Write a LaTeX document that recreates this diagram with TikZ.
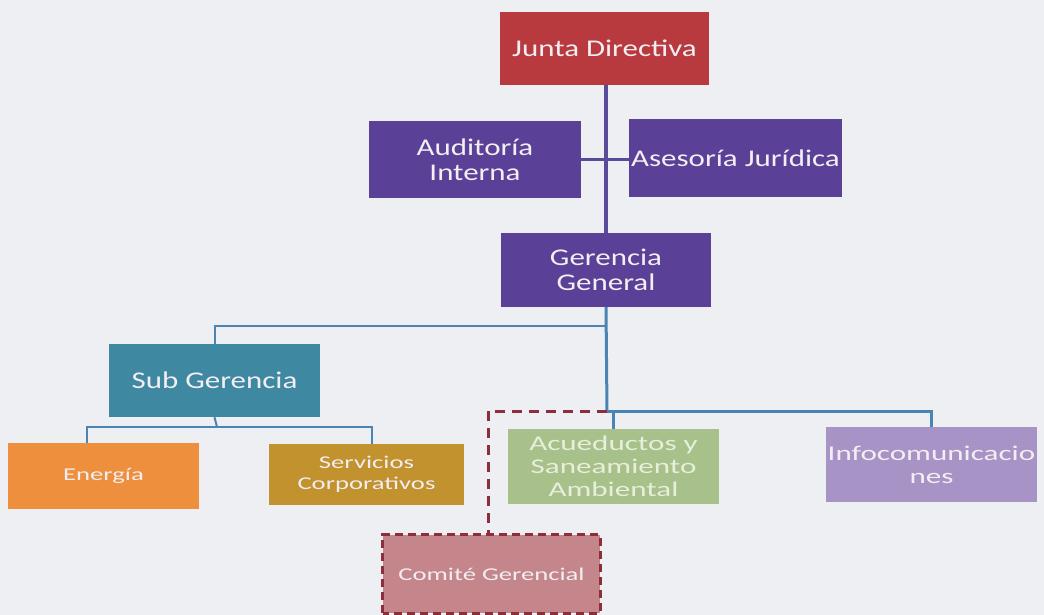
\documentclass[tikz,border=0pt]{standalone}
\usepackage{fontspec}
\newfontfamily\fA[FakeStretch=1.29]{Carlito}
\newfontfamily\fB[FakeStretch=1.48]{Carlito}
\definecolor{bgc}{HTML}{EDEFF3}
\definecolor{cjunta}{HTML}{B83A3F}
\definecolor{cpurp}{HTML}{5A4096}
\definecolor{csub}{HTML}{3E88A2}
\definecolor{cener}{HTML}{EE8F3E}
\definecolor{cserv}{HTML}{C2922E}
\definecolor{cacu}{HTML}{A8C18A}
\definecolor{cinfo}{HTML}{A893C6}
\definecolor{ccom}{HTML}{C4868B}
\definecolor{cdash}{HTML}{8E2E3A}
\definecolor{cline}{HTML}{5A4A9A}
\definecolor{cblue}{HTML}{4A84B4}
\definecolor{ctxt}{HTML}{F2EEF2}
\definecolor{cacutxt}{HTML}{E6EEDC}
\tikzset{
  box/.style={rectangle, inner sep=0pt, align=center, text=ctxt},
  bigtxt/.style={font={\fA\fontsize{24}{25}\selectfont}},
  midtxt/.style={font={\fB\fontsize{21}{23}\selectfont}},
  smalltxt/.style={font={\fB\fontsize{18}{21}\selectfont}},
  topline/.style={draw=cline, line width=3.5pt},
  blueline/.style={draw=cblue, line width=2pt},
  bluethick/.style={draw=cblue, line width=3pt},
  dashline/.style={draw=cdash, line width=3pt, dash pattern=on 10pt off 7pt},
  dashbox/.style={draw=cdash, line width=3pt, dash pattern=on 8pt off 5pt}
}
\begin{document}
\begin{tikzpicture}[x=1pt,y=-1pt]
\fill[bgc] (0,0) rectangle (1044,615);
\useasboundingbox (0,0) rectangle (1044,615);
% nodes
\node[box, bigtxt, fill=cjunta, minimum width=209pt, minimum height=73pt] (junta) at (604.5,48.5) {Junta Directiva};
\node[box, bigtxt, fill=cpurp, minimum width=212pt, minimum height=77pt] (auditoria) at (475,159.5) {Auditoría\\Interna};
\node[box, bigtxt, fill=cpurp, minimum width=213pt, minimum height=78pt] (asesoria) at (735.5,158) {Asesoría Jurídica};
\node[box, bigtxt, fill=cpurp, minimum width=210pt, minimum height=74pt] (gerencia) at (606,270) {Gerencia\\General};
\node[box, bigtxt, fill=csub, minimum width=211pt, minimum height=73pt] (subg) at (214.5,380.5) {Sub Gerencia};
\node[box, smalltxt, fill=cener, minimum width=191pt, minimum height=66pt] (energia) at (103.5,476) {Energía};
\node[box, smalltxt, fill=cserv, minimum width=195pt, minimum height=61pt] (servicios) at (366.5,474.5) {Servicios\\Corporativos};
\node[box, midtxt, fill=cacu, text=cacutxt, minimum width=211pt, minimum height=75pt] (acued) at (613.5,466.5) {Acueductos y\\Saneamiento\\Ambiental};
\node[box, midtxt, fill=cinfo, minimum width=211pt, minimum height=75pt] (infocom) at (931.5,464.5) {Infocomunicacio\\nes};
\node[box, smalltxt, fill=ccom, minimum width=217pt, minimum height=78pt] (comite) at (491.5,574) {Comité Gerencial};
\draw[dashbox] (comite.south west) rectangle (comite.north east);
% coordinates
\coordinate (bsplit) at (607,326);
\coordinate (hub) at (607,411);
\coordinate (ssplit) at (217,427);
% connectors
\draw[topline] (junta.south -| gerencia.north) -- (gerencia.north);
\draw[topline, line width=3pt] (auditoria.east) -- (auditoria.east -| asesoria.west);
\draw[bluethick] (gerencia.south) -- (hub);
\draw[blueline] (bsplit) -| (subg.north);
\draw[bluethick] (hub) -| (infocom.north);
\draw[bluethick] (hub -| acued.north) -- (acued.north);
\draw[blueline] (subg.south) -- (ssplit);
\draw[blueline] (ssplit) -| ([xshift=-17pt]energia.north);
\draw[blueline] (ssplit) -| ([xshift=5.5pt]servicios.north);
\draw[dashline] (hub) -| ([xshift=-3.5pt]comite.north);
\end{tikzpicture}
\end{document}
